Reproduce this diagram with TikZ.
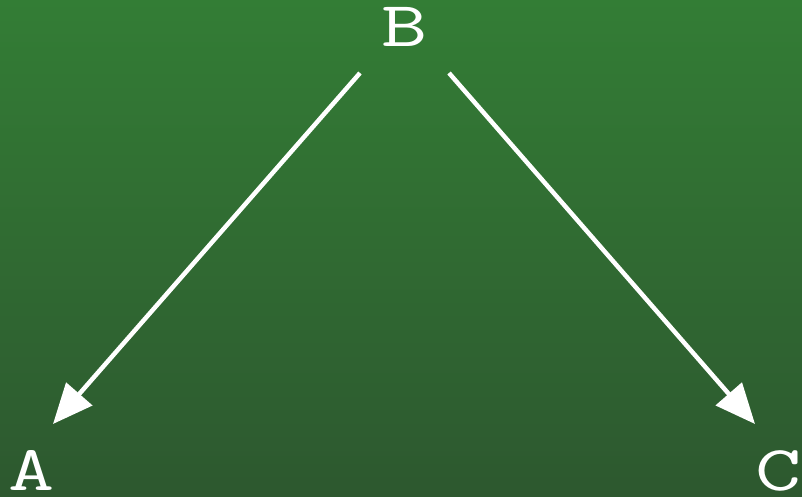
\documentclass[tikz,border=0pt]{standalone}
\usetikzlibrary{arrows.meta}
\definecolor{bgtop}{RGB}{51,125,53}
\definecolor{bgbot}{RGB}{45,88,47}
\newcommand{\widelet}[1]{\scalebox{1.4}[1]{#1}}
\begin{document}
\begin{tikzpicture}[x=1pt,y=-1pt,
  lbl/.style={text=white,font=\ttfamily\fontsize{64}{64}\selectfont,inner sep=0pt,anchor=base},
  conn/.style={draw=white,line width=4.5pt,-{Triangle[length=40pt,width=34pt]}}]
\shade[top color=bgtop,bottom color=bgbot] (0,0) rectangle (802,497);
\useasboundingbox (0,0) rectangle (802,497);
\node[lbl] (B) at (405,47) {\widelet{B}};
\node[lbl] (A) at (32,490) {\widelet{A}};
\node[lbl] (C) at (779,490) {\widelet{C}};
\coordinate (Bl) at (360,73);
\coordinate (Br) at (449,73);
\coordinate (At) at (53,424);
\coordinate (Ct) at (755,424);
\draw[conn] (Bl) -- (At);
\draw[conn] (Br) -- (Ct);
\end{tikzpicture}
\end{document}
